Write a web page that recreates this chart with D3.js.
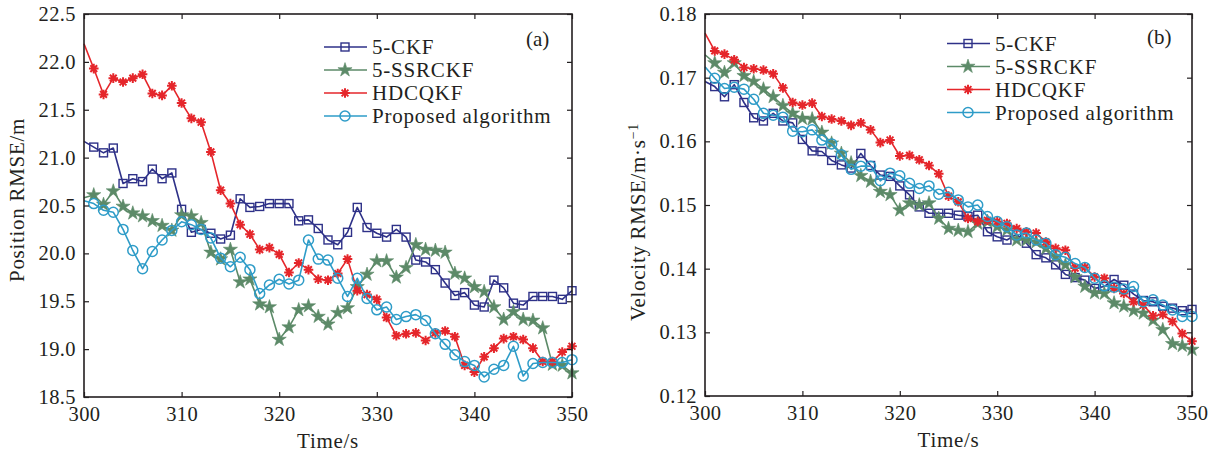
<!DOCTYPE html>
<html><head><meta charset="utf-8">
<script src="https://cdn.jsdelivr.net/npm/d3@7"></script>
<style>
body{margin:0;background:#fff;}
svg{display:block;}
text{font-family:"Liberation Serif","Times New Roman",serif;fill:#231f20;}
</style></head><body>
<svg id="chart" width="1226" height="458"></svg>
<script>
// ---------- data ----------
const times = d3.range(300, 351);
const xTicks = [300, 310, 320, 330, 340, 350];
const posTicks = [18.5, 19.0, 19.5, 20.0, 20.5, 21.0, 21.5, 22.0, 22.5];
const velTicks = [0.12, 0.13, 0.14, 0.15, 0.16, 0.17, 0.18];
const seriesNames = ["5-CKF", "5-SSRCKF", "HDCQKF", "Proposed algorithm"];

const ckfPos = [21.17,21.11,21.05,21.10,20.73,20.78,20.75,20.88,20.78,20.84,
  20.46,20.22,20.25,20.21,20.15,20.19,20.57,20.48,20.49,20.52,
  20.52,20.52,20.34,20.35,20.26,20.14,20.09,20.22,20.48,20.27,
  20.21,20.17,20.25,20.17,19.93,19.91,19.83,19.69,19.56,19.59,
  19.46,19.44,19.72,19.64,19.48,19.46,19.55,19.55,19.55,19.52,19.61];
const ssrPos = [20.58,20.61,20.51,20.65,20.49,20.42,20.39,20.34,20.29,20.24,
  20.40,20.39,20.32,20.01,19.94,20.04,19.70,19.73,19.47,19.44,
  19.10,19.23,19.41,19.45,19.34,19.26,19.38,19.43,19.65,19.78,
  19.92,19.92,19.75,19.85,20.09,20.04,20.03,20.01,19.79,19.74,
  19.65,19.60,19.44,19.31,19.39,19.31,19.30,19.22,18.84,18.83,18.75];
const hdcPos = [22.19,21.93,21.66,21.83,21.79,21.83,21.87,21.67,21.65,21.75,
  21.57,21.41,21.37,21.06,20.66,20.52,20.30,20.20,20.04,20.06,
  19.99,19.80,19.90,19.83,19.73,19.72,19.79,19.94,19.61,19.57,
  19.52,19.33,19.14,19.16,19.17,19.09,19.17,19.19,19.13,18.83,
  18.76,18.92,19.01,19.11,19.13,19.10,19.01,18.87,18.87,18.97,19.03];
const propPos = [20.55,20.52,20.45,20.43,20.25,20.03,19.84,20.02,20.14,20.24,
  20.33,20.30,20.25,20.16,19.95,19.86,19.96,19.83,19.58,19.67,
  19.73,19.68,19.72,20.14,19.94,19.93,19.74,19.55,19.74,19.53,
  19.41,19.44,19.31,19.34,19.36,19.30,19.16,19.05,18.94,18.87,
  18.83,18.71,18.79,18.83,19.03,18.72,18.85,18.86,18.86,18.86,18.89];

const ckfVel = [0.1694,0.1686,0.1670,0.1689,0.1661,0.1637,0.1632,0.1644,0.1632,0.1629,
  0.1603,0.1585,0.1584,0.1570,0.1563,0.1558,0.1581,0.1562,0.1547,0.1545,
  0.1530,0.1516,0.1497,0.1487,0.1487,0.1487,0.1484,0.1482,0.1484,0.1458,
  0.1450,0.1445,0.1454,0.1440,0.1422,0.1417,0.1406,0.1391,0.1386,0.1382,
  0.1369,0.1372,0.1383,0.1374,0.1360,0.1350,0.1348,0.1341,0.1338,0.1334,0.1336];
const ssrVel = [0.1736,0.1723,0.1708,0.1723,0.1703,0.1694,0.1682,0.1670,0.1656,0.1644,
  0.1636,0.1635,0.1614,0.1597,0.1581,0.1566,0.1546,0.1537,0.1521,0.1516,
  0.1492,0.1503,0.1500,0.1503,0.1479,0.1463,0.1460,0.1458,0.1471,0.1474,
  0.1466,0.1461,0.1445,0.1445,0.1442,0.1432,0.1419,0.1406,0.1387,0.1372,
  0.1362,0.1361,0.1346,0.1341,0.1334,0.1330,0.1319,0.1304,0.1282,0.1279,0.1273];
const hdcVel = [0.1770,0.1742,0.1737,0.1728,0.1716,0.1714,0.1712,0.1706,0.1684,0.1661,
  0.1657,0.1660,0.1639,0.1635,0.1632,0.1625,0.1629,0.1618,0.1598,0.1602,
  0.1577,0.1578,0.1571,0.1562,0.1549,0.1514,0.1505,0.1479,0.1474,0.1476,
  0.1474,0.1471,0.1463,0.1458,0.1456,0.1442,0.1432,0.1429,0.1401,0.1402,
  0.1387,0.1385,0.1369,0.1361,0.1348,0.1343,0.1326,0.1328,0.1317,0.1298,0.1286];
const propVel = [0.1717,0.1699,0.1683,0.1685,0.1682,0.1666,0.1644,0.1641,0.1638,0.1616,
  0.1615,0.1618,0.1602,0.1596,0.1579,0.1556,0.1561,0.1561,0.1538,0.1550,
  0.1546,0.1534,0.1526,0.1530,0.1517,0.1520,0.1508,0.1497,0.1500,0.1482,
  0.1474,0.1466,0.1453,0.1456,0.1445,0.1440,0.1422,0.1418,0.1408,0.1402,
  0.1385,0.1373,0.1371,0.1368,0.1372,0.1348,0.1351,0.1343,0.1335,0.1325,0.1325];

// ---------- styles ----------
const colors = ["#2e3188", "#5c8a68", "#e5262b", "#2e9cc8"];
const markers = ["square", "star", "asterisk", "circle"];
const axisColor = "#231f20";

const svg = d3.select("#chart");

function drawMarker(g, type, x, y, color) {
  if (type === "square") {
    g.append("rect").attr("x", x - 4).attr("y", y - 4).attr("width", 8).attr("height", 8)
      .attr("fill", "none").attr("stroke", color).attr("stroke-width", 1.4);
  } else if (type === "circle") {
    g.append("circle").attr("cx", x).attr("cy", y).attr("r", 5)
      .attr("fill", "none").attr("stroke", color).attr("stroke-width", 1.5);
  } else if (type === "star") {
    g.append("path").attr("d", d3.symbol().type(d3.symbolStar).size(62)())
      .attr("transform", `translate(${x},${y})`).attr("fill", color).attr("stroke", color).attr("stroke-width", 0.6);
  } else if (type === "asterisk") {
    const r = 4.8, p = [];
    for (let k = 0; k < 4; k++) {
      const a = k * Math.PI / 4;
      p.push(`M${x - r * Math.cos(a)},${y - r * Math.sin(a)}L${x + r * Math.cos(a)},${y + r * Math.sin(a)}`);
    }
    g.append("path").attr("d", p.join("")).attr("stroke", color).attr("stroke-width", 2).attr("fill", "none");
    g.append("circle").attr("cx", x).attr("cy", y).attr("r", 2.2).attr("fill", color);
  }
}

function panel(cfg) {
  const x = d3.scaleLinear().domain([300, 350]).range([cfg.x0, cfg.x1]);
  const y = d3.scaleLinear().domain(cfg.yDomain).range([cfg.y1, cfg.y0]);
  const g = svg.append("g");

  // series
  cfg.series.forEach((vals, si) => {
    const line = d3.line().x((d, i) => x(times[i])).y(d => y(d));
    g.append("path").datum(vals).attr("d", line)
      .attr("fill", "none").attr("stroke", colors[si]).attr("stroke-width", 1.6)
      .attr("stroke-linejoin", "round");
    const mg = g.append("g");
    vals.forEach((v, i) => { if (i > 0) drawMarker(mg, markers[si], x(times[i]), y(v), colors[si]); });
  });

  // axes (box with inward ticks)
  const tl = 5;
  const ax = g.append("g");
  ax.append("rect").attr("x", cfg.x0).attr("y", cfg.y0).attr("width", cfg.x1 - cfg.x0).attr("height", cfg.y1 - cfg.y0)
    .attr("fill", "none").attr("stroke", axisColor).attr("stroke-width", 1.6);
  const xAxB = d3.axisBottom(x).tickValues(xTicks).tickSize(-tl).tickPadding(9).tickFormat(d3.format("d"));
  const xAxT = d3.axisTop(x).tickValues(xTicks).tickSize(-tl).tickFormat("");
  const yAxL = d3.axisLeft(y).tickValues(cfg.yTicks).tickSize(-tl).tickPadding(8).tickFormat(d3.format(cfg.fmt));
  const yAxR = d3.axisRight(y).tickValues(cfg.yTicks).tickSize(-tl).tickFormat("");
  [[xAxB, `translate(0,${cfg.y1})`], [xAxT, `translate(0,${cfg.y0})`],
   [yAxL, `translate(${cfg.x0},0)`], [yAxR, `translate(${cfg.x1},0)`]].forEach(([a, t]) => {
    const s = ax.append("g").attr("transform", t).call(a);
    s.select(".domain").remove();
    s.selectAll(".tick line").attr("stroke", axisColor).attr("stroke-width", 1.2);
    s.selectAll(".tick text").attr("font-family", "Liberation Serif, serif").attr("font-size", 20.5)
      .attr("fill", axisColor).style("letter-spacing", "0.4px");
  });

  // axis titles
  g.append("text").attr("x", (cfg.x0 + cfg.x1) / 2).attr("y", cfg.y1 + 51)
    .attr("text-anchor", "middle").attr("font-size", 21).style("letter-spacing", "0.7px").text("Time/s");
  const yt = g.append("text").attr("transform", `translate(${cfg.ylx},${cfg.yly}) rotate(-90)`)
    .attr("text-anchor", "middle").attr("font-size", 21).style("letter-spacing", "0.7px");
  yt.append("tspan").text(cfg.ylabel);
  if (cfg.ysup) yt.append("tspan").attr("baseline-shift", "super").attr("font-size", 14).text(cfg.ysup);

  // panel tag
  g.append("text").attr("x", cfg.tagX).attr("y", cfg.tagY).attr("font-size", 21).text(cfg.tag);

  // legend
  const lg = g.append("g");
  seriesNames.forEach((n, i) => {
    const yy = cfg.legY + i * 23;
    lg.append("line").attr("x1", cfg.legX).attr("x2", cfg.legX + 43).attr("y1", yy).attr("y2", yy)
      .attr("stroke", colors[i]).attr("stroke-width", 1.6);
    drawMarker(lg, markers[i], cfg.legX + 21, yy, colors[i]);
    lg.append("text").attr("x", cfg.legX + 48).attr("y", yy + 7).attr("font-size", 21)
      .style("letter-spacing", "0.8px").text(n);
  });
}

panel({
  x0: 84, x1: 572, y0: 14, y1: 397, yDomain: [18.5, 22.5], yTicks: posTicks, fmt: ".1f",
  series: [ckfPos, ssrPos, hdcPos, propPos],
  ylabel: "Position RMSE/m", ysup: null, ylx: 24, yly: 200,
  tag: "(a)", tagX: 526, tagY: 46, legX: 324, legY: 47
});
panel({
  x0: 705, x1: 1192, y0: 14, y1: 396, yDomain: [0.12, 0.18], yTicks: velTicks, fmt: ".2f",
  series: [ckfVel, ssrVel, hdcVel, propVel],
  ylabel: "Velocity RMSE/m·s", ysup: "−1", ylx: 645, yly: 222,
  tag: "(b)", tagX: 1147, tagY: 44, legX: 947, legY: 43.5
});
</script>
</body></html>
